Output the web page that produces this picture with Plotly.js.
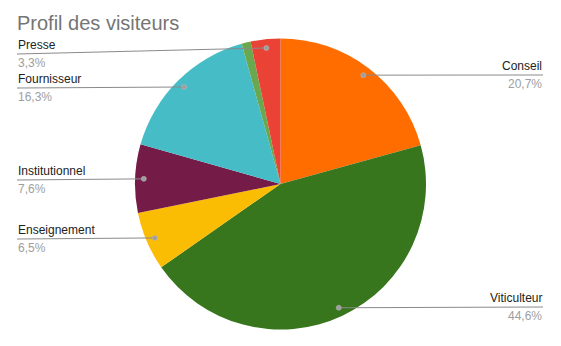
<!DOCTYPE html>
<html>
<head>
<meta charset="utf-8">
<script src="https://cdn.plot.ly/plotly-3.0.1.min.js"></script>
<style>html,body{margin:0;padding:0;background:#fff}#chart{width:561px;height:346px}</style>
</head>
<body>
<div id="chart"></div>
<script>
// Data
const categories = ["Conseil", "Viticulteur", "Enseignement", "Institutionnel", "Fournisseur", "Autre", "Presse"];
const values = [20.7, 44.6, 6.5, 7.6, 16.3, 1.0, 3.3];
const pctLabels = ["20,7%", "44,6%", "6,5%", "7,6%", "16,3%", "1,0%", "3,3%"];
const colors = ["#ff6d01", "#38761d", "#fbbc04", "#741b47", "#46bdc6", "#6aa84f", "#ea4335"];

// Layout (pixel geometry)
const W = 561, H = 346;
const cx = 280.5, cy = 184, R = 145.5;
const labelSide = ["right", "right", "left", "left", "left", null, "left"];
const labelLineY = [75, 307, 239, 180, 88, null, 54];
const leftX = 17, rightX = 543;

const px = x => x / W;
const py = y => 1 - y / H;

const total = values.reduce((a, b) => a + b, 0);
const shapes = [], annotations = [];
let cum = 0;
values.forEach((v, i) => {
  const mid = (cum + v / 2) / total;
  cum += v;
  if (!labelSide[i]) return;
  const ang = mid * 2 * Math.PI;
  const dx = cx + 0.94 * R * Math.sin(ang);
  const dy = cy - 0.94 * R * Math.cos(ang);
  const ly = labelLineY[i];
  const left = labelSide[i] === "left";
  const x0 = left ? leftX : rightX;
  shapes.push({type: "line", xref: "paper", yref: "paper",
    x0: px(x0), y0: py(ly), x1: px(dx), y1: py(dy),
    line: {color: "#8a8a8a", width: 1}});
  shapes.push({type: "circle", xref: "paper", yref: "paper",
    x0: px(dx - 2.5), x1: px(dx + 2.5), y0: py(dy - 2.5), y1: py(dy + 2.5),
    fillcolor: "#9e9e9e", line: {color: "#bdbdbd", width: 0.5}});
  annotations.push({xref: "paper", yref: "paper", x: px(x0), y: py(ly - 1),
    xanchor: left ? "left" : "right", yanchor: "bottom", showarrow: false,
    text: categories[i], font: {family: "Liberation Sans, Arial, sans-serif", size: 12, color: "#222222"}, borderpad: 0});
  annotations.push({xref: "paper", yref: "paper", x: px(x0), y: py(ly + 1),
    xanchor: left ? "left" : "right", yanchor: "top", showarrow: false,
    text: pctLabels[i], font: {family: "Liberation Sans, Arial, sans-serif", size: 12, color: "#9e9e9e"}, borderpad: 0});
});

const trace = {
  type: "pie", labels: categories, values: values, sort: false,
  direction: "clockwise", rotation: 0,
  marker: {colors: colors, line: {width: 0}},
  textinfo: "none", hoverinfo: "none", showlegend: false,
  domain: {x: [px(cx - R), px(cx + R)], y: [py(cy + R), py(cy - R)]}
};

const layout = {
  width: W, height: H,
  margin: {l: 0, r: 0, t: 0, b: 0},
  paper_bgcolor: "#ffffff",
  title: {text: "Profil des visiteurs", x: px(17), xanchor: "left", y: py(23), yanchor: "middle",
    font: {family: "Liberation Sans, Arial, sans-serif", size: 20, color: "#757575"}},
  shapes: shapes,
  annotations: annotations
};

Plotly.newPlot("chart", [trace], layout, {displayModeBar: false, staticPlot: true});
</script>
</body>
</html>
